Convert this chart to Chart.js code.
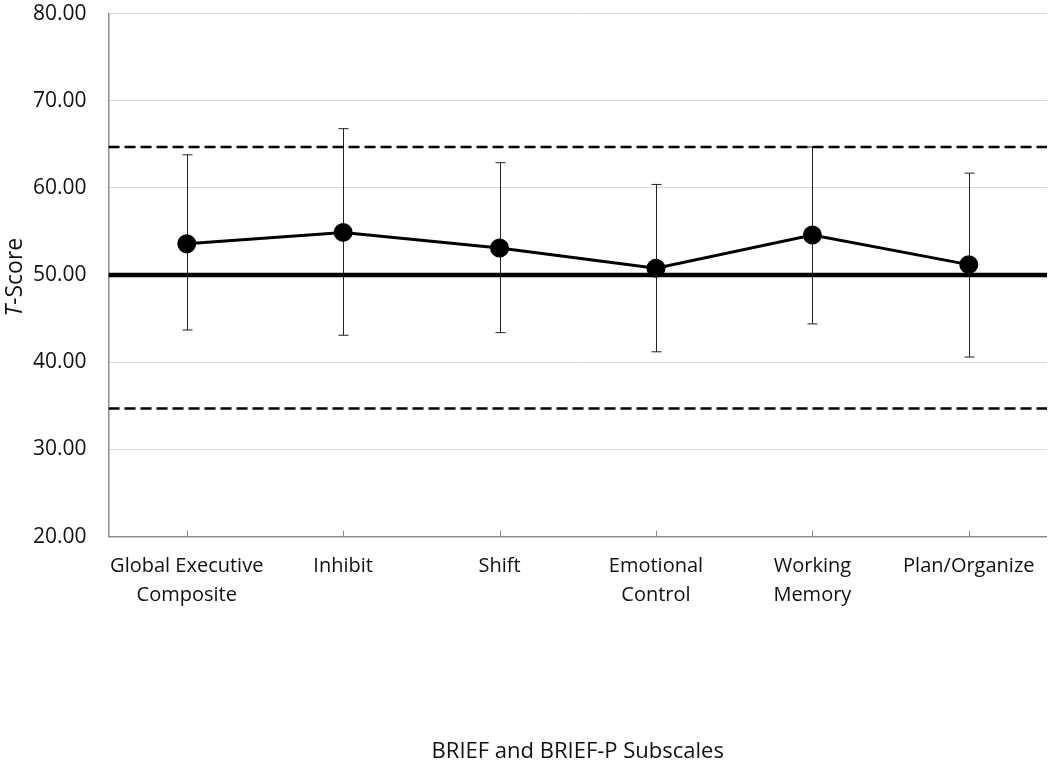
<!DOCTYPE html>
<html lang="en">
<head>
    <meta charset="UTF-8">
    <title>BRIEF T-Scores</title>
    <script src="https://cdn.jsdelivr.net/npm/chart.js@4.4.1/dist/chart.umd.min.js"></script>
    <style>
        body, html { margin: 0; padding: 0; background: #fff; }
        canvas { display: block; }
    </style>
</head>
<body>
    <canvas id="tscore" width="1050" height="763"></canvas>

    <script>
        // Subscales and mean T-scores
        const subscales = [
            ['Global Executive', 'Composite'],
            'Inhibit',
            'Shift',
            ['Emotional', 'Control'],
            ['Working', 'Memory'],
            'Plan/Organize'
        ];
        const meanScores = [53.6, 54.9, 53.1, 50.8, 54.6, 51.2];
        const upperBars  = [63.8, 66.8, 62.9, 60.4, 64.7, 61.7];
        const lowerBars  = [43.7, 43.1, 43.4, 41.2, 44.4, 40.6];

        // Reference lines: normative mean and +/- cut-offs
        const normMean = 50;
        const upperCut = 64.7;
        const lowerCut = 34.7;
        const lineEnds = [-0.5, 5.5];

        const yTicks = { min: 20, max: 80, step: 10 };

        const fontFamily = '"Open Sans", "DejaVu Sans", sans-serif';

        function refLine(value, width, dash) {
            return {
                type: 'line',
                xAxisID: 'x2',
                data: lineEnds.map(x => ({ x: x, y: value })),
                borderColor: '#000',
                borderWidth: width,
                borderDash: dash,
                pointRadius: 0,
                fill: false,
                order: 1
            };
        }

        // error bars with caps, drawn under the points
        const errorBars = {
            id: 'errorBars',
            beforeDatasetsDraw(chart) {
                const ctx = chart.ctx;
                const x = chart.scales.x;
                const y = chart.scales.y;
                ctx.save();
                ctx.strokeStyle = '#222';
                ctx.lineWidth = 1;
                for (let i = 0; i < meanScores.length; i++) {
                    const px = Math.round(x.getPixelForValue(i)) + 0.5;
                    const top = y.getPixelForValue(upperBars[i]);
                    const bot = y.getPixelForValue(lowerBars[i]);
                    ctx.beginPath();
                    ctx.moveTo(px, top);
                    ctx.lineTo(px, bot);
                    ctx.moveTo(px - 5, top);
                    ctx.lineTo(px + 5, top);
                    ctx.moveTo(px - 5, bot);
                    ctx.lineTo(px + 5, bot);
                    ctx.stroke();
                }
                ctx.restore();
            }
        };

        // small tick marks above the x axis at each category, plus the y title
        const innerTicks = {
            id: 'innerTicks',
            afterDraw(chart) {
                const ctx = chart.ctx;
                const x = chart.scales.x;
                const bottom = chart.chartArea.bottom;
                ctx.save();
                ctx.strokeStyle = '#8c8c8c';
                ctx.lineWidth = 1;
                ctx.beginPath();
                for (let i = 0; i < subscales.length; i++) {
                    const px = Math.round(x.getPixelForValue(i)) + 0.5;
                    ctx.moveTo(px, bottom);
                    ctx.lineTo(px, bottom - 6);
                }
                ctx.stroke();

                // y axis title with italic T
                const area = chart.chartArea;
                ctx.translate(15, (area.top + area.bottom) / 2 + 2);
                ctx.rotate(-Math.PI / 2);
                ctx.fillStyle = '#111';
                ctx.textBaseline = 'middle';
                ctx.font = 'italic 23px ' + fontFamily;
                const tW = ctx.measureText('T').width;
                ctx.font = '23px ' + fontFamily;
                const restW = ctx.measureText('-Score').width;
                const start = -(tW + restW) / 2;
                ctx.font = 'italic 23px ' + fontFamily;
                ctx.textAlign = 'left';
                ctx.fillText('T', start, 0);
                ctx.font = '23px ' + fontFamily;
                ctx.fillText('-Score', start + tW, 0);
                ctx.restore();
            }
        };

        const context = document.getElementById('tscore').getContext('2d');

        new Chart(context, {
            type: 'line',
            data: {
                labels: subscales,
                datasets: [
                    {
                        label: 'Mean',
                        data: meanScores,
                        borderColor: '#000',
                        backgroundColor: '#000',
                        borderWidth: 3,
                        pointRadius: 8,
                        pointHoverRadius: 8,
                        pointBackgroundColor: '#000',
                        tension: 0,
                        fill: false,
                        order: 0
                    },
                    refLine(normMean, 4.5, []),
                    refLine(upperCut, 2.5, [11, 5]),
                    refLine(lowerCut, 2.5, [11, 5])
                ]
            },
            options: {
                responsive: false,
                animation: false,
                layout: {
                    autoPadding: false,
                    padding: { left: 32, right: 0, top: 0, bottom: -2 }
                },
                scales: {
                    x: {
                        type: 'category',
                        offset: true,
                        grid: { display: false, drawTicks: false },
                        border: { display: true, color: '#8c8c8c', width: 1.5 },
                        ticks: {
                            color: '#111',
                            padding: 15.5,
                            autoSkip: false,
                            maxRotation: 0,
                            font: { family: fontFamily, size: 20, lineHeight: 1.45 }
                        },
                        title: {
                            display: true,
                            text: 'BRIEF and BRIEF-P Subscales',
                            color: '#111',
                            font: { family: fontFamily, size: 22 },
                            padding: { top: 113, bottom: 0 }
                        }
                    },
                    x2: {
                        type: 'linear',
                        position: 'bottom',
                        display: false,
                        min: lineEnds[0],
                        max: lineEnds[1]
                    },
                    y: {
                        min: yTicks.min,
                        max: yTicks.max,
                        grid: {
                            color: '#d9d9d9',
                            lineWidth: 1,
                            drawTicks: true,
                            tickLength: 21,
                            tickColor: 'rgba(0,0,0,0)'
                        },
                        border: { display: true, color: '#8c8c8c', width: 1.5 },
                        ticks: {
                            stepSize: yTicks.step,
                            color: '#111',
                            padding: 1,
                            font: { family: fontFamily, size: 21 },
                            callback: v => v.toFixed(2)
                        }
                    }
                },
                plugins: {
                    legend: { display: false },
                    tooltip: { enabled: false }
                }
            },
            plugins: [errorBars, innerTicks]
        });
    </script>
</body>
</html>
